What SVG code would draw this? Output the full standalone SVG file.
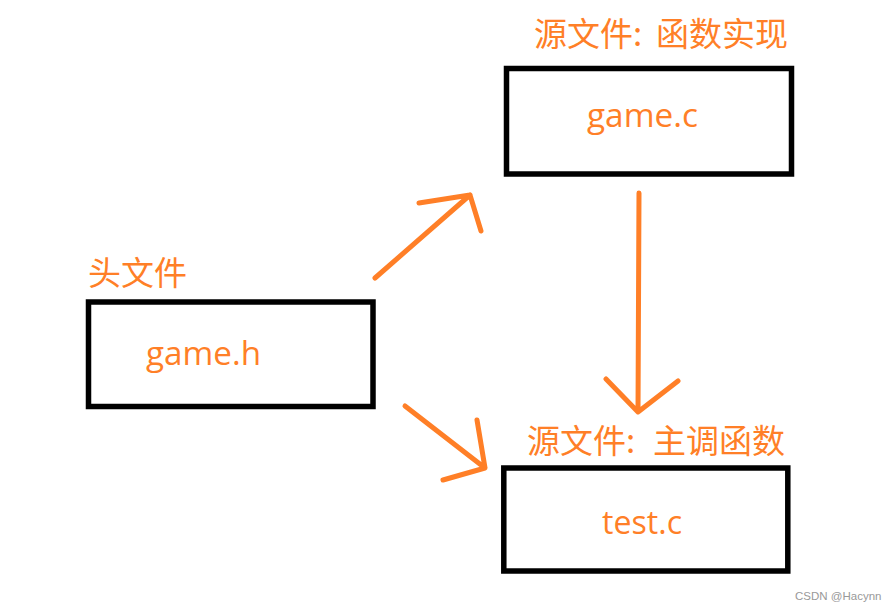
<svg xmlns="http://www.w3.org/2000/svg" width="890" height="613" viewBox="0 0 890 613">
<style>
.box{fill:none;stroke:#000;stroke-width:5.5}
.cjk{font-family:"Noto Sans CJK SC","Noto Sans",sans-serif;font-size:33px;fill:#FF7F27}
.lbl{font-family:"Open Sans","Noto Sans",sans-serif;font-size:32px;fill:#FF7F27}
.arr{fill:none;stroke:#FF7F27;stroke-width:5;stroke-linecap:round;stroke-linejoin:round}
.wm{font-family:"Liberation Sans",Arial,sans-serif;font-size:11.5px;fill:#999}
</style>
<rect width="890" height="613" fill="#fff"/>
<g id="node-header">
<text class="cjk" x="88" y="285">头文件</text>
<rect class="box" x="88.5" y="302" width="284.5" height="104.5"/>
<text class="lbl" x="146" y="365" textLength="115" lengthAdjust="spacingAndGlyphs">game.h</text>
</g>
<g id="node-gamec">
<text class="cjk" x="534" y="46"><tspan>源文件:</tspan><tspan x="656">函数实现</tspan></text>
<rect class="box" x="506.5" y="68.5" width="285" height="105.5"/>
<text class="lbl" x="587" y="127" textLength="111" lengthAdjust="spacingAndGlyphs">game.c</text>
</g>
<g id="node-testc">
<text class="cjk" x="527" y="453"><tspan>源文件:</tspan><tspan x="653">主调函数</tspan></text>
<rect class="box" x="503.8" y="468" width="284" height="103"/>
<text class="lbl" x="602" y="534" textLength="80" lengthAdjust="spacingAndGlyphs">test.c</text>
</g>
<g id="connectors">
<path class="arr" d="M375 278 L470 195 M419 203 L470 195 L481 231"/>
<path class="arr" d="M405 406 L485 468 M477 420 L485 468 L443 480"/>
<path class="arr" d="M639 193 L638 412 M606 379 L638 412 L678 381"/>
</g>
<text class="wm" x="795" y="600">CSDN @Hacynn</text>
</svg>
